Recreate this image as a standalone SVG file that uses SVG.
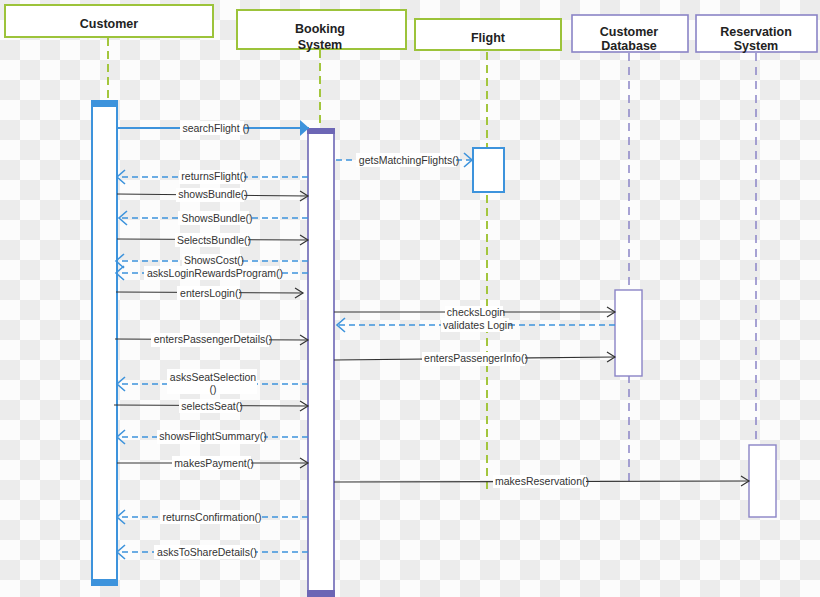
<svg xmlns="http://www.w3.org/2000/svg" width="820" height="597" viewBox="0 0 820 597">
<defs>
<pattern id="checker" x="0" y="0" width="40" height="40" patternUnits="userSpaceOnUse">
<rect width="40" height="40" fill="#fcfcfc"/>
<rect width="20" height="20" fill="#ececec"/>
<rect x="20" y="20" width="20" height="20" fill="#ececec"/>
</pattern>
<marker id="openBlack" markerUnits="userSpaceOnUse" markerWidth="12" markerHeight="14" refX="9" refY="7" orient="auto">
<path d="M1,2 L9,7 L1,12" fill="none" stroke="#333" stroke-width="1.2"/>
</marker>
<marker id="openBlue" markerUnits="userSpaceOnUse" markerWidth="12" markerHeight="16" refX="9" refY="8" orient="auto">
<path d="M1,1 L9,8 L1,15" fill="none" stroke="#3d93dc" stroke-width="1.6"/>
</marker>
<marker id="fillBlue" markerUnits="userSpaceOnUse" markerWidth="12" markerHeight="18" refX="9" refY="9" orient="auto">
<path d="M0,1 L9,9 L0,17 Z" fill="#3d93dc"/>
</marker>
</defs>
<style>
.hdrG{fill:#fff;stroke:#9cc33a;stroke-width:2}
.hdrP{fill:#fff;stroke:#8a84c6;stroke-width:1.6}
.hdrT{font-family:"Liberation Sans",Arial,sans-serif;font-size:12.5px;font-weight:bold;fill:#222;text-anchor:middle}
.lifeG{stroke:#a3c63d;stroke-width:2;stroke-dasharray:8,5;fill:none}
.lifeP{stroke:#8a84c6;stroke-width:1.5;stroke-dasharray:8,6;fill:none}
.actB{fill:#fff;stroke:#3d93dc;stroke-width:2}
.actP{fill:#fff;stroke:#6c66b5;stroke-width:1.6}
.actP2{fill:#fff;stroke:#8a84c6;stroke-width:1.4}
.call{stroke:#333;stroke-width:1.1;fill:none;marker-end:url(#openBlack)}
.ret{stroke:#3d93dc;stroke-width:1.6;stroke-dasharray:6,4;fill:none;marker-end:url(#openBlue)}
.lbl{font-family:"Liberation Sans",Arial,sans-serif;font-size:10.5px;fill:#333;text-anchor:middle}
.bg{fill:#fff}
</style>
<rect width="820" height="597" fill="url(#checker)"/>

<g id="lifelines">
<line class="lifeG" x1="108" y1="38" x2="108" y2="100"/>
<line class="lifeG" x1="320" y1="50" x2="320" y2="128"/>
<line class="lifeG" x1="487" y1="52" x2="487" y2="492"/>
<line class="lifeP" x1="629" y1="53" x2="629" y2="486"/>
<line class="lifeP" x1="756" y1="53" x2="756" y2="445"/>
</g>

<g id="customer">
<rect class="hdrG" x="5" y="5" width="208" height="32"/>
<text class="hdrT" x="109" y="28">Customer</text>
<rect class="actB" x="92" y="102" width="25" height="482"/>
<rect x="91" y="100" width="27" height="7" fill="#3d93dc"/>
<rect x="91" y="579" width="27" height="7" fill="#3d93dc"/>
</g>

<g id="booking-system">
<rect class="hdrG" x="237" y="10" width="169" height="39"/>
<text class="hdrT" x="320" y="33">Booking</text>
<text class="hdrT" x="320" y="49">System</text>
<rect class="actP" x="308" y="130" width="26" height="463"/>
<rect x="307" y="128" width="28" height="6" fill="#6c66b5"/>
<rect x="307" y="590" width="28" height="7" fill="#6c66b5"/>
</g>

<g id="flight">
<rect class="hdrG" x="415" y="19" width="146" height="31"/>
<text class="hdrT" x="488" y="42">Flight</text>
<rect class="actB" x="473" y="148" width="31" height="44" stroke-width="1.6"/>
</g>

<g id="customer-database">
<rect class="hdrP" x="572" y="15" width="116" height="37"/>
<text class="hdrT" x="629" y="36">Customer</text>
<text class="hdrT" x="629" y="50">Database</text>
<rect class="actP2" x="615" y="290" width="27" height="86"/>
</g>

<g id="reservation-system">
<rect class="hdrP" x="696" y="15" width="121" height="37"/>
<text class="hdrT" x="756" y="36">Reservation</text>
<text class="hdrT" x="756" y="50">System</text>
<rect class="actP2" x="749" y="445" width="27" height="72"/>
</g>

<g id="connectors">
<line x1="117" y1="128" x2="309" y2="128" stroke="#3d93dc" stroke-width="1.8" marker-end="url(#fillBlue)"/>
<rect class="bg" x="180" y="121" width="64" height="14"/>
<text class="lbl" x="216" y="132">searchFlight ()</text>

<line class="ret" x1="336" y1="160" x2="472" y2="160"/>
<rect class="bg" x="356" y="153" width="100" height="14"/>
<text class="lbl" x="409" y="164">getsMatchingFlights()</text>

<line class="ret" x1="308" y1="177" x2="117" y2="177"/>
<rect class="bg" x="179" y="170" width="65" height="14"/>
<text class="lbl" x="214" y="180">returnsFlight()</text>

<line class="call" x1="117" y1="194" x2="308" y2="196"/>
<rect class="bg" x="176" y="188" width="68" height="14"/>
<text class="lbl" x="213" y="198">showsBundle()</text>

<line class="ret" x1="308" y1="218" x2="119" y2="218"/>
<rect class="bg" x="178" y="211" width="71" height="14"/>
<text class="lbl" x="217" y="222">ShowsBundle()</text>

<line class="call" x1="117" y1="239" x2="308" y2="240"/>
<rect class="bg" x="175" y="233" width="73" height="14"/>
<text class="lbl" x="214" y="244">SelectsBundle()</text>

<line class="ret" x1="308" y1="261" x2="116" y2="261"/>
<rect class="bg" x="182" y="254" width="59" height="14"/>
<text class="lbl" x="214" y="264">ShowsCost()</text>

<line class="ret" x1="308" y1="273" x2="116" y2="273"/>
<rect class="bg" x="144" y="266" width="135" height="14"/>
<text class="lbl" x="215" y="277">asksLoginRewardsProgram()</text>

<line class="call" x1="116" y1="292" x2="303" y2="293"/>
<rect class="bg" x="177" y="286" width="62" height="14"/>
<text class="lbl" x="211" y="297">entersLogin()</text>

<line class="call" x1="334" y1="312" x2="615" y2="312"/>
<rect class="bg" x="445" y="306" width="58" height="13"/>
<text class="lbl" x="476" y="316">checksLogin</text>

<line class="ret" x1="615" y1="325" x2="337" y2="325"/>
<rect class="bg" x="441" y="318" width="68" height="14"/>
<text class="lbl" x="478" y="329">validates Login</text>

<line class="call" x1="115" y1="339" x2="308" y2="340"/>
<rect class="bg" x="151" y="333" width="118" height="14"/>
<text class="lbl" x="213" y="343">entersPassengerDetails()</text>

<line class="call" x1="334" y1="360" x2="615" y2="357"/>
<rect class="bg" x="422" y="352" width="103" height="14"/>
<text class="lbl" x="476" y="362">entersPassengerInfo()</text>

<line class="ret" x1="308" y1="384" x2="117" y2="384"/>
<rect class="bg" x="167" y="369" width="90" height="25"/>
<text class="lbl" x="213" y="381">asksSeatSelection</text>
<text class="lbl" x="213" y="393">()</text>

<line class="call" x1="114" y1="405" x2="308" y2="406"/>
<rect class="bg" x="179" y="399" width="61" height="14"/>
<text class="lbl" x="212" y="410">selectsSeat()</text>

<line class="ret" x1="308" y1="437" x2="117" y2="437"/>
<rect class="bg" x="157" y="430" width="107" height="14"/>
<text class="lbl" x="213" y="440">showsFlightSummary()</text>

<line class="call" x1="117" y1="463" x2="308" y2="463"/>
<rect class="bg" x="172" y="456" width="79" height="14"/>
<text class="lbl" x="214" y="467">makesPayment()</text>

<line class="call" x1="334" y1="482" x2="749" y2="481"/>
<rect class="bg" x="493" y="475" width="93" height="13"/>
<text class="lbl" x="542" y="485">makesReservation()</text>

<line class="ret" x1="308" y1="517" x2="117" y2="517"/>
<rect class="bg" x="160" y="510" width="100" height="14"/>
<text class="lbl" x="212" y="521">returnsConfirmation()</text>

<line class="ret" x1="308" y1="552" x2="117" y2="552"/>
<rect class="bg" x="154" y="545" width="101" height="14"/>
<text class="lbl" x="207" y="556">asksToShareDetails()</text>
</g>
</svg>
